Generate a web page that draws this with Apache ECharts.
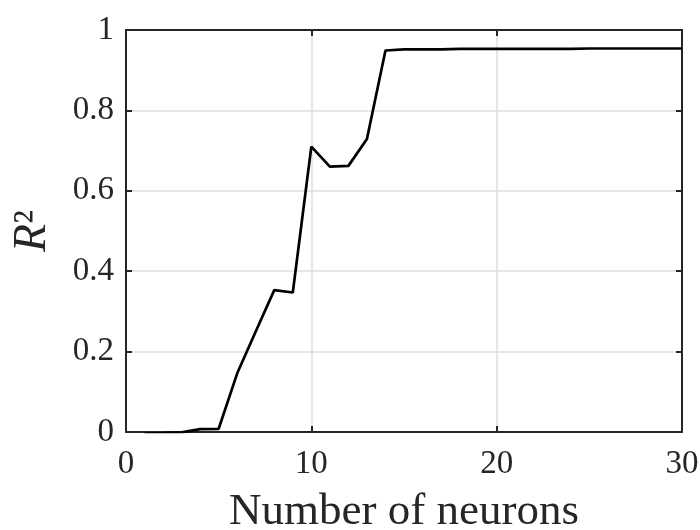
<!DOCTYPE html>
<html>
<head>
<meta charset="utf-8">
<script src="https://cdn.jsdelivr.net/npm/echarts@6/dist/echarts.min.js"></script>
<style>
  html, body { margin: 0; padding: 0; background: #fff; }
  #chart { width: 700px; height: 530px; }
</style>
</head>
<body>
<div id="chart"></div>
<script>
// number of neurons (x) and R^2 (y)
var neurons = [1, 2, 3, 4, 5, 6, 7, 8, 9, 10, 11, 12, 13, 14, 15,
               16, 17, 18, 19, 20, 21, 22, 23, 24, 25, 26, 27, 28, 29, 30];
var r2 = [-0.004, -0.003, -0.001, 0.007, 0.008, 0.146, 0.25, 0.353, 0.347, 0.71,
          0.66, 0.662, 0.729, 0.949, 0.952, 0.952, 0.952, 0.953, 0.953, 0.953,
          0.953, 0.953, 0.953, 0.953, 0.954, 0.954, 0.954, 0.954, 0.954, 0.954];
var xTicks = [0, 10, 20, 30];
var yTicks = [0, 0.2, 0.4, 0.6, 0.8, 1];

var font = 'Liberation Serif';
var dark = '#262626';

var points = neurons.map(function (n, i) { return [n, r2[i]]; });

var boxAxis = function (extra) {
    var base = {
        type: 'value',
        axisLine: { show: true, onZero: false, lineStyle: { color: dark, width: 2 } },
        axisTick: { show: true, inside: true, length: 6, lineStyle: { color: dark, width: 2 } },
        axisLabel: { show: false },
        splitLine: { show: false }
    };
    for (var k in extra) base[k] = extra[k];
    return base;
};

var option = {
    animation: false,
    grid: { left: 126, right: 18, top: 30, bottom: 98, containLabel: false, outerBoundsMode: 'none' },
    xAxis: [
        boxAxis({
            position: 'bottom',
            min: xTicks[0], max: xTicks[xTicks.length - 1], interval: 10,
            splitLine: { show: true, lineStyle: { color: '#dedede', width: 1.5 } },
            axisLabel: { show: true, fontFamily: font, fontSize: 33, color: dark, margin: 16 },
            name: 'Number of neurons',
            nameLocation: 'middle',
            nameGap: 58,
            nameTextStyle: { fontFamily: font, fontSize: 45, color: dark }
        }),
        boxAxis({ position: 'top', min: 0, max: 30, interval: 10 })
    ],
    yAxis: [
        boxAxis({
            position: 'left',
            min: yTicks[0], max: yTicks[yTicks.length - 1], interval: 0.2,
            splitLine: { show: true, lineStyle: { color: '#dedede', width: 1.5 } },
            axisLabel: { show: true, fontFamily: font, fontSize: 33, color: dark, margin: 12 },
            name: '{r|R}{s|²}',
            nameLocation: 'middle',
            nameGap: 70,
            nameRotate: 90,
            nameTextStyle: {
                color: dark,
                rich: {
                    r: { fontFamily: font, fontStyle: 'italic', fontSize: 46, color: dark },
                    s: { fontFamily: font, fontSize: 46, color: dark }
                }
            }
        }),
        boxAxis({ position: 'right', min: 0, max: 1, interval: 0.2 })
    ],
    series: [{
        type: 'line',
        xAxisIndex: 0,
        yAxisIndex: 0,
        data: points,
        showSymbol: false,
        lineStyle: { color: '#000', width: 2.7 },
        z: 5
    }]
};

var chart = echarts.init(document.getElementById('chart'));
chart.setOption(option);
</script>
</body>
</html>
